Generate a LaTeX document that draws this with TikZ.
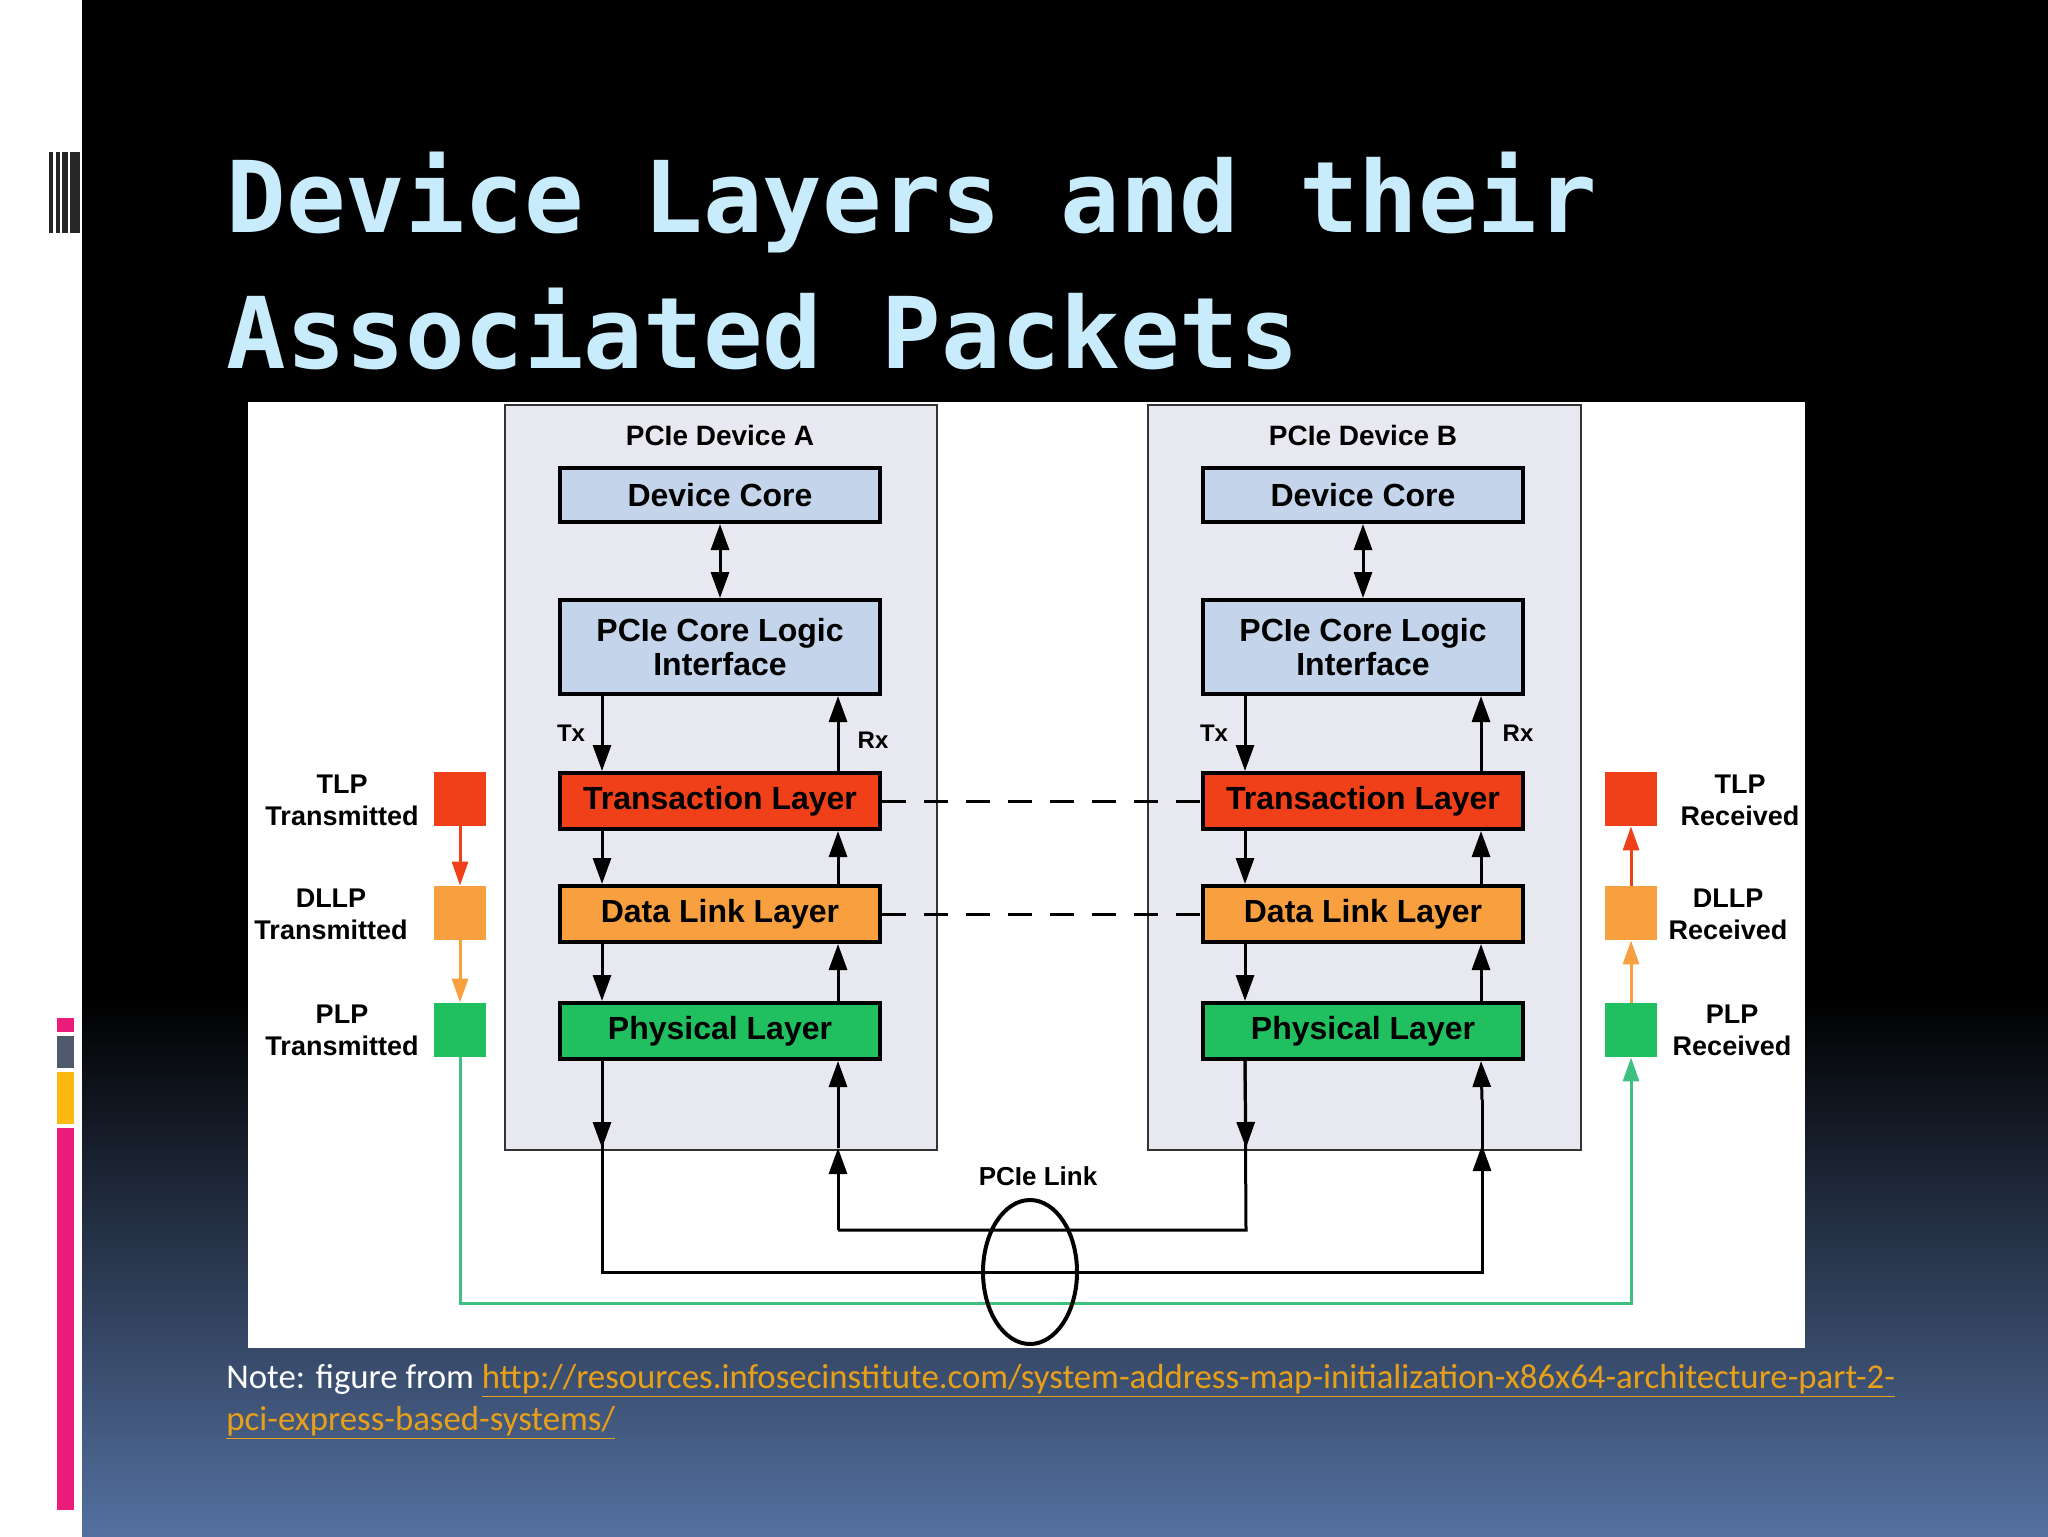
\documentclass[tikz,border=0pt]{standalone}
\usepackage{fontspec}
\setmainfont{Liberation Sans}
\newfontfamily\titlefont{DejaVu Sans Mono}
\newfontfamily\notefont{Carlito}
\usetikzlibrary{arrows.meta}
\definecolor{titlec}{HTML}{C8ECFC}
\definecolor{boxgray}{HTML}{E8E8F0}
\definecolor{corec}{HTML}{C4D4EA}
\definecolor{tlc}{HTML}{F0401A}
\definecolor{dlc}{HTML}{F8A040}
\definecolor{plc}{HTML}{20C060}
\definecolor{linkc}{HTML}{E8A018}
\definecolor{bluebot}{HTML}{5470A0}
\definecolor{pinkc}{HTML}{EC1C7C}
\definecolor{grayc}{HTML}{505A6C}
\definecolor{yelc}{HTML}{FBB810}
\definecolor{greenl}{HTML}{40C080}
\begin{document}
\begin{tikzpicture}[x=0.5pt,y=-0.5pt,
  blk/.style={draw=black,line width=2pt,minimum width=160pt,inner sep=0pt,font=\bfseries\fontsize{16}{17}\selectfont,align=center},
  dev/.style={draw=black!80,line width=1.2pt,fill=boxgray},
  arr/.style={line width=1.5pt,-{Triangle[width=9pt,length=13pt]}},
  pkt/.style={minimum width=26pt,minimum height=27pt,inner sep=0pt},
  lbl/.style={font=\bfseries\fontsize{13.5}{16}\selectfont,align=center},
  dashln/.style={line width=1.5pt,dash pattern=on 12pt off 9pt}]
\useasboundingbox (0,0) rectangle (2048,1536);
% background
\fill[black] (0,0) rectangle (2048,1536);
\shade[top color=black,bottom color=bluebot] (82,1000) rectangle (2048,1536);
\fill[white] (0,0) rectangle (82,1536);
\fill[black!85] (49,152) rectangle (53,233);
\fill[black!85] (56,152) rectangle (60,233);
\fill[black!85] (62,152) rectangle (68,233);
\fill[black!85] (70,152) rectangle (80,233);
\fill[pinkc] (57,1018) rectangle (74,1032);
\fill[grayc] (57,1036) rectangle (74,1068);
\fill[yelc] (57,1072) rectangle (74,1124);
\fill[pinkc] (57,1128) rectangle (74,1510);
% title
\node[anchor=base west,text=titlec,font=\titlefont\bfseries\fontsize{49.5}{60}\selectfont,inner sep=0pt] (t1) at (226,232) {Device Layers and their};
\node[anchor=base west,text=titlec,font=\titlefont\bfseries\fontsize{49.5}{60}\selectfont,inner sep=0pt] (t2) at (226,368) {Associated Packets};
% diagram panel
\fill[white] (248,402) rectangle (1805,1348);
\draw[dev] (505,405) rectangle (937,1150);
\draw[dev] (1148,405) rectangle (1581,1150);
\node[lbl,font=\bfseries\fontsize{14}{16}\selectfont] (da) at (720,435) {PCIe Device A};
\node[lbl,font=\bfseries\fontsize{14}{16}\selectfont] (db) at (1363,435) {PCIe Device B};
\foreach \o/\s in {0/A,643/B}{
  \node[blk,fill=corec,minimum height=27pt] (core\s) at (720+\o,495) {Device Core};
  \node[blk,fill=corec,minimum height=47pt] (logic\s) at (720+\o,647) {PCIe Core Logic\\Interface};
  \node[blk,fill=tlc,minimum height=28pt] (tl\s) at (720+\o,801) {Transaction Layer};
  \node[blk,fill=dlc,minimum height=28pt] (dl\s) at (720+\o,914) {Data Link Layer};
  \node[blk,fill=plc,minimum height=28pt] (pl\s) at (720+\o,1031) {Physical Layer};
  \draw[line width=1.5pt,{Triangle[width=9pt,length=13pt]}-{Triangle[width=9pt,length=13pt]}] (core\s) -- (logic\s);
  \coordinate (tx\s) at (602+\o,0); \coordinate (rx\s) at (838+\o,0);
  \draw[arr] (logic\s.south -| tx\s) -- (tl\s.north -| tx\s);
  \draw[arr] (tl\s.north -| rx\s) -- (logic\s.south -| rx\s);
  \draw[arr] (tl\s.south -| tx\s) -- (dl\s.north -| tx\s);
  \draw[arr] (dl\s.north -| rx\s) -- (tl\s.south -| rx\s);
  \draw[arr] (dl\s.south -| tx\s) -- (pl\s.north -| tx\s);
  \draw[arr] (pl\s.north -| rx\s) -- (dl\s.south -| rx\s);
  \node[lbl,font=\bfseries\fontsize{12}{13}\selectfont] (txl\s) at (571+\o,733) {Tx};
}
\node[lbl,font=\bfseries\fontsize{12}{13}\selectfont] (rxlA) at (873,740) {Rx};
\node[lbl,font=\bfseries\fontsize{12}{13}\selectfont] (rxlB) at (1518,733) {Rx};
\draw[dashln] (tlA) -- (tlB);
\draw[dashln] (dlA) -- (dlB);
% link
\coordinate (c1) at (602,1272); \coordinate (c2) at (1482,1272);
\coordinate (c3) at (838,1230); \coordinate (c4) at (1246,1230);
\draw[line width=1.5pt] (plA.south -| txA) -- (c1) -- (c2) -- (1482,1145);
\draw[arr] (1482,1200) -- (1482,1145);
\draw[arr] (1482,1100) -- (plB.south -| rxB);
\draw[arr] (plA.south -| txA) -- (602,1148);
\draw[line width=1.5pt] (c3) -- (c4) -- (plB.south -| txB);
\draw[arr] (838,1230) -- (838,1148);
\draw[arr] (838,1110) -- (plA.south -| rxA);
\draw[arr] (plB.south -| txB) -- (1246,1148);
\draw[line width=1.5pt] (838,1148) -- (838,1110);
\draw[line width=1.5pt] (1482,1145) -- (1482,1100);
% packets
\node[pkt,fill=tlc] (tpl) at (460,799) {};
\node[pkt,fill=dlc] (dpl) at (460,913) {};
\node[pkt,fill=plc] (ppl) at (460,1030) {};
\node[pkt,fill=tlc] (tpr) at (1631,799) {};
\node[pkt,fill=dlc] (dpr) at (1631,913) {};
\node[pkt,fill=plc] (ppr) at (1631,1030) {};
\draw[line width=1.5pt,tlc,-{Triangle[width=8pt,length=12pt]}] (tpl) -- (dpl);
\draw[line width=1.5pt,dlc,-{Triangle[width=8pt,length=12pt]}] (dpl) -- (ppl);
\draw[line width=1.5pt,tlc,-{Triangle[width=8pt,length=12pt]}] (dpr) -- (tpr);
\draw[line width=1.5pt,dlc,-{Triangle[width=8pt,length=12pt]}] (ppr) -- (dpr);
\coordinate (g1) at (460,1303); \coordinate (g2) at (1631,1303);
\draw[line width=1.5pt,greenl,-{Triangle[width=8pt,length=12pt]}] (ppl) -- (g1) -- (g2) -- (ppr);
\draw[line width=2pt] (1030,1272) ellipse (47 and 72);
\node[lbl,font=\bfseries\fontsize{13}{14}\selectfont] (lk) at (1038,1176) {PCIe Link};
\node[lbl] (l1) at (342,800) {TLP\\Transmitted};
\node[lbl] (l2) at (331,914) {DLLP\\Transmitted};
\node[lbl] (l3) at (342,1030) {PLP\\Transmitted};
\node[lbl] (r1) at (1740,800) {TLP\\Received};
\node[lbl] (r2) at (1728,914) {DLLP\\Received};
\node[lbl] (r3) at (1732,1030) {PLP\\Received};
% note
\node[anchor=base west,inner sep=0pt,font=\notefont\fontsize{17.4}{20}\selectfont,text=white] (n1) at (226,1388) {Note: figure from \textcolor{linkc}{\underline{http://resources.infosecinstitute.com/system-address-map-initialization-x86x64-architecture-part-2-}}};
\node[anchor=base west,inner sep=0pt,font=\notefont\fontsize{17.4}{20}\selectfont,text=linkc] (n2) at (226,1430) {\underline{pci-express-based-systems/}};
\end{tikzpicture}
\end{document}
